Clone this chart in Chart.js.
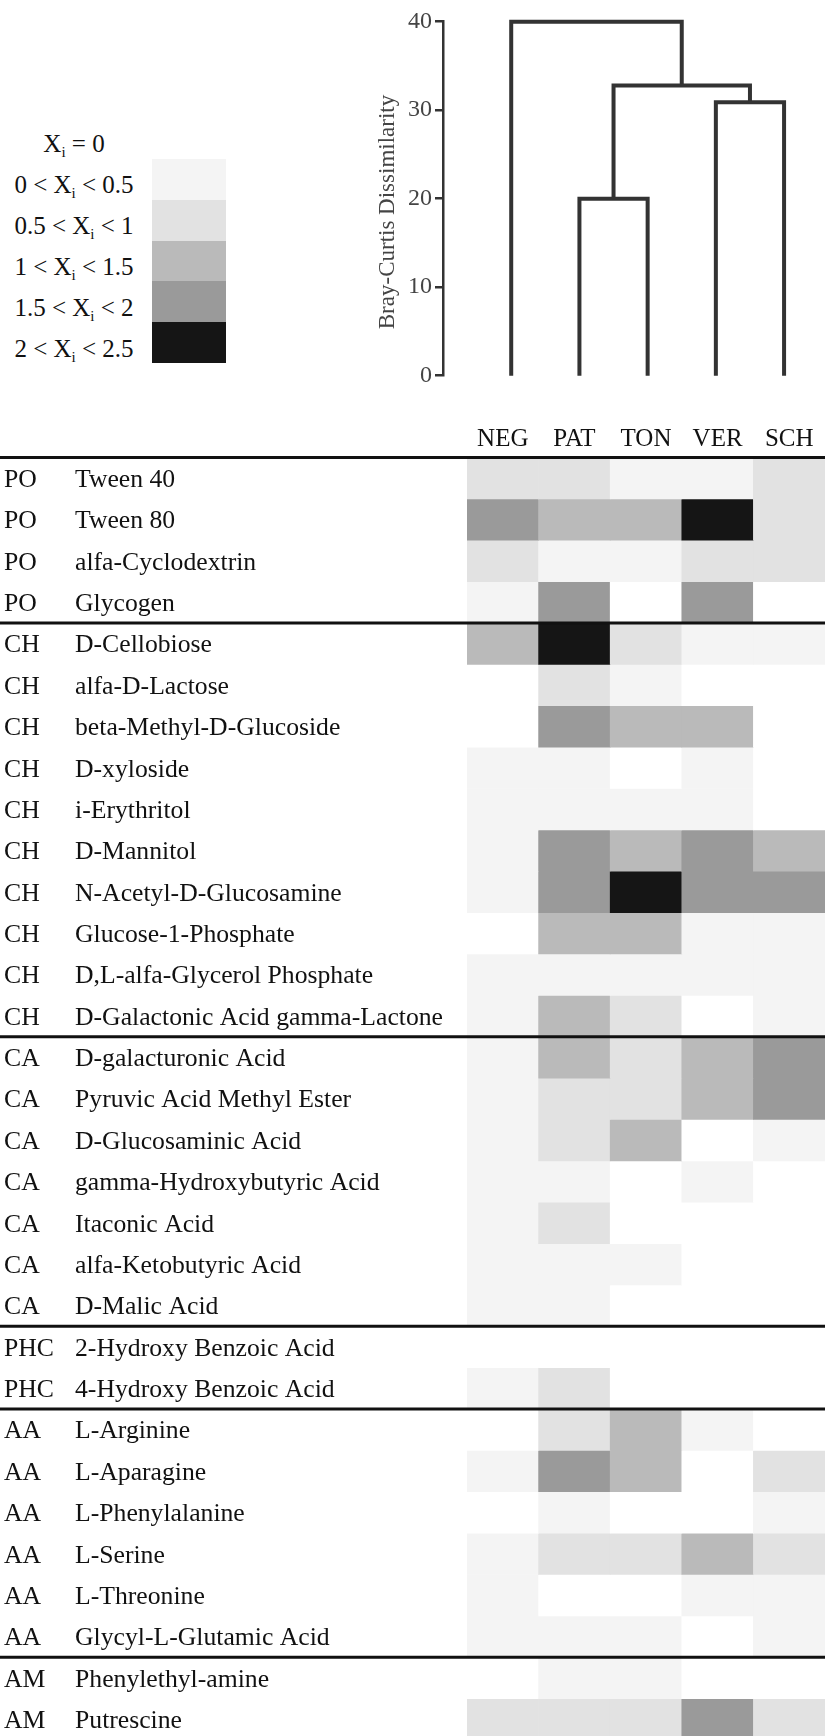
<!DOCTYPE html>
<html>
<head>
<meta charset="utf-8">
<script src="https://cdn.jsdelivr.net/npm/chart.js@4.4.1/dist/chart.umd.min.js"></script>
<style>
  html, body { margin: 0; padding: 0; background: #fff; overflow: hidden; width: 825px; height: 1736px; }
  #dendro { position: absolute; left: 340px; top: 0; }
  #heat { position: absolute; left: 0; top: 400px; }
  #legend { position: absolute; left: 0; top: 0; font-family: 'Liberation Serif', 'Times New Roman', serif; color: #111; font-size: 25px; }
  .lg-label { position: absolute; left: 0; width: 148px; height: 41px; line-height: 41px; text-align: center; white-space: nowrap; }
  .lg-label sub { font-size: 15px; line-height: 0; vertical-align: -5px; }
  .lg-box { position: absolute; left: 152px; width: 74px; }
</style>
</head>
<body>
<div id="legend"></div>
<canvas id="dendro" width="485" height="400"></canvas>
<canvas id="heat" width="825" height="1340"></canvas>
<script>
// Sample groups: heatmap columns and dendrogram leaves, left to right
const samples = ['NEG', 'PAT', 'TON', 'VER', 'SCH'];

// Guild code and substrate name for each heatmap row
const guilds = ['PO', 'PO', 'PO', 'PO',
  'CH', 'CH', 'CH', 'CH', 'CH', 'CH', 'CH', 'CH', 'CH', 'CH',
  'CA', 'CA', 'CA', 'CA', 'CA', 'CA', 'CA',
  'PHC', 'PHC',
  'AA', 'AA', 'AA', 'AA', 'AA', 'AA',
  'AM', 'AM'];
const substrates = ['Tween 40', 'Tween 80', 'alfa-Cyclodextrin', 'Glycogen',
  'D-Cellobiose', 'alfa-D-Lactose', 'beta-Methyl-D-Glucoside', 'D-xyloside', 'i-Erythritol',
  'D-Mannitol', 'N-Acetyl-D-Glucosamine', 'Glucose-1-Phosphate', 'D,L-alfa-Glycerol Phosphate',
  'D-Galactonic Acid gamma-Lactone',
  'D-galacturonic Acid', 'Pyruvic Acid Methyl Ester', 'D-Glucosaminic Acid',
  'gamma-Hydroxybutyric Acid', 'Itaconic Acid', 'alfa-Ketobutyric Acid', 'D-Malic Acid',
  '2-Hydroxy Benzoic Acid', '4-Hydroxy Benzoic Acid',
  'L-Arginine', 'L-Aparagine', 'L-Phenylalanine', 'L-Serine', 'L-Threonine', 'Glycyl-L-Glutamic Acid',
  'Phenylethyl-amine', 'Putrescine'];

// Xi per substrate for each sample group
const xiNEG = [0.8, 1.8, 0.8, 0.3, 1.3, 0, 0, 0.3, 0.3, 0.3, 0.3, 0, 0.3, 0.3, 0.3, 0.3, 0.3, 0.3, 0.3, 0.3, 0.3, 0, 0.3, 0, 0.3, 0, 0.3, 0.3, 0.3, 0, 0.8];
const xiPAT = [0.8, 1.3, 0.3, 1.8, 2.3, 0.8, 1.8, 0.3, 0.3, 1.8, 1.8, 1.3, 0.3, 1.3, 1.3, 0.8, 0.8, 0.3, 0.8, 0.3, 0.3, 0, 0.8, 0.8, 1.8, 0.3, 0.8, 0, 0.3, 0.3, 0.8];
const xiTON = [0.3, 1.3, 0.3, 0, 0.8, 0.3, 1.3, 0, 0.3, 1.3, 2.3, 1.3, 0.3, 0.8, 0.8, 0.8, 1.3, 0, 0, 0.3, 0, 0, 0, 1.3, 1.3, 0, 0.8, 0, 0.3, 0.3, 0.8];
const xiVER = [0.3, 2.3, 0.8, 1.8, 0.3, 0, 1.3, 0.3, 0.3, 1.8, 1.8, 0.3, 0.3, 0, 1.3, 1.3, 0, 0.3, 0, 0, 0, 0, 0, 0.3, 0, 0, 1.3, 0.3, 0, 0, 1.8];
const xiSCH = [0.8, 0.8, 0.8, 0, 0.3, 0, 0, 0, 0, 1.3, 1.8, 0.3, 0.3, 0.3, 1.8, 1.8, 0.3, 0, 0, 0, 0, 0, 0, 0, 0.8, 0.3, 0.8, 0.3, 0.3, 0, 0.8];

// Xi classes: upper bounds and grey levels (first class is Xi = 0)
const classUpper = [0, 0.5, 1, 1.5, 2, 2.5];
const classColors = ['#ffffff', '#f4f4f4', '#e2e2e2', '#bababa', '#9a9a9a', '#151515'];

// Hierarchical clustering (hclust convention: negative = leaf, positive = earlier merge)
const mergeLeft = [-2, -4, 1, -1];
const mergeRight = [-3, -5, 2, 3];
const mergeHeight = [20.0, 30.9, 32.8, 40.0];
const dissimilarityTicks = [0, 10, 20, 30, 40];
const dissimilarityTitle = 'Bray-Curtis Dissimilarity';

const serif = "'Liberation Serif', 'Times New Roman', serif";

function colorFor(v) {
  if (v === 0) return classColors[0];
  for (let k = 1; k < classUpper.length; k++) {
    if (v < classUpper[k]) return classColors[k];
  }
  return classColors[classColors.length - 1];
}

// ----- legend -----
const legendEl = document.getElementById('legend');
classColors.forEach((col, k) => {
  const lab = document.createElement('div');
  lab.className = 'lg-label';
  lab.style.top = (123 + 41 * k) + 'px';
  lab.innerHTML = k === 0
    ? 'X<sub>i</sub> = 0'
    : classUpper[k - 1] + ' &lt; X<sub>i</sub> &lt; ' + classUpper[k];
  legendEl.appendChild(lab);
  if (k > 0) {
    const box = document.createElement('div');
    box.className = 'lg-box';
    box.style.top = (159 + 40.8 * (k - 1)) + 'px';
    box.style.height = '41px';
    box.style.background = col;
    legendEl.appendChild(box);
  }
});

// ----- dendrogram -----
const nodeX = [], nodeH = [];
function childPos(id) {
  return id < 0 ? { x: -id, h: 0 } : { x: nodeX[id - 1], h: nodeH[id - 1] };
}
const dendroSets = mergeHeight.map((h, m) => {
  const a = childPos(mergeLeft[m]);
  const b = childPos(mergeRight[m]);
  nodeX[m] = (a.x + b.x) / 2;
  nodeH[m] = h;
  return {
    data: [{ x: a.x, y: a.h }, { x: a.x, y: h }, { x: b.x, y: h }, { x: b.x, y: b.h }],
    borderColor: '#333',
    borderWidth: 4,
    pointRadius: 0,
    tension: 0,
    fill: false,
    clip: false,
    borderJoinStyle: 'miter',
    borderCapStyle: 'butt'
  };
});

// rotated axis title beside the dissimilarity axis
const axisTitle = {
  id: 'axisTitle',
  afterDraw(chart) {
    const { ctx } = chart;
    ctx.save();
    ctx.translate(48, 212);
    ctx.rotate(-Math.PI / 2);
    ctx.font = '23px ' + serif;
    ctx.fillStyle = '#444';
    ctx.textAlign = 'center';
    ctx.textBaseline = 'middle';
    ctx.fillText(dissimilarityTitle, 0, 0);
    ctx.restore();
  }
};

new Chart(document.getElementById('dendro'), {
  type: 'line',
  data: { datasets: dendroSets },
  options: {
    responsive: false,
    animation: false,
    devicePixelRatio: 1,
    layout: { padding: { top: 21.7, bottom: 24.3, left: 0, right: 0 } },
    plugins: { legend: { display: false }, tooltip: { enabled: false } },
    scales: {
      x: { type: 'linear', min: 0, max: 5.6, display: false },
      y: {
        type: 'linear',
        min: dissimilarityTicks[0],
        max: dissimilarityTicks[dissimilarityTicks.length - 1],
        afterBuildTicks: s => { s.ticks = dissimilarityTicks.map(v => ({ value: v })); },
        ticks: { font: { family: serif, size: 24 }, color: '#444', padding: 3 },
        grid: { drawOnChartArea: false, drawTicks: true, tickLength: 8, color: '#333', lineWidth: 2.5 },
        border: { display: true, color: '#333', width: 2.5 },
        afterFit: s => { s.width = 103; }
      }
    }
  },
  plugins: [axisTitle]
});

// ----- heatmap -----
const series = [xiNEG, xiPAT, xiTON, xiVER, xiSCH];

const rowLabels = {
  id: 'rowLabels',
  afterDraw(chart) {
    const { ctx } = chart;
    const y = chart.scales.y;
    ctx.save();
    ctx.font = '25.7px ' + serif;
    ctx.fillStyle = '#111';
    ctx.textBaseline = 'middle';
    ctx.textAlign = 'left';
    substrates.forEach((name, r) => {
      const py = y.getPixelForValue(r + 0.5) + 2;
      ctx.fillText(guilds[r], 4, py);
      ctx.fillText(name, 75, py);
    });
    ctx.strokeStyle = '#111';
    ctx.lineWidth = 3;
    guilds.forEach((g, r) => {
      if (r === 0 || g !== guilds[r - 1]) {
        const py = y.getPixelForValue(r);
        ctx.beginPath();
        ctx.moveTo(0, py);
        ctx.lineTo(chart.width, py);
        ctx.stroke();
      }
    });
    ctx.restore();
  }
};

new Chart(document.getElementById('heat'), {
  type: 'bar',
  data: {
    labels: samples,
    datasets: substrates.map((name, r) => ({
      label: name,
      data: samples.map(() => [r, r + 1]),
      backgroundColor: series.map(s => colorFor(s[r])),
      borderWidth: 0,
      grouped: false,
      barPercentage: 1,
      categoryPercentage: 1
    }))
  },
  options: {
    responsive: false,
    animation: false,
    devicePixelRatio: 1,
    layout: { padding: { left: 467, right: 0, top: 0, bottom: 0 } },
    plugins: { legend: { display: false }, tooltip: { enabled: false } },
    scales: {
      x: {
        type: 'category',
        position: 'top',
        offset: true,
        grid: { display: false },
        border: { display: false },
        ticks: { font: { family: serif, size: 25 }, color: '#111', padding: -5, maxRotation: 0, autoSkip: false },
        afterFit: s => { s.height = 57.5; }
      },
      y: { type: 'linear', min: 0, max: substrates.length, reverse: true, display: false }
    }
  },
  plugins: [rowLabels]
});
</script>
</body>
</html>
